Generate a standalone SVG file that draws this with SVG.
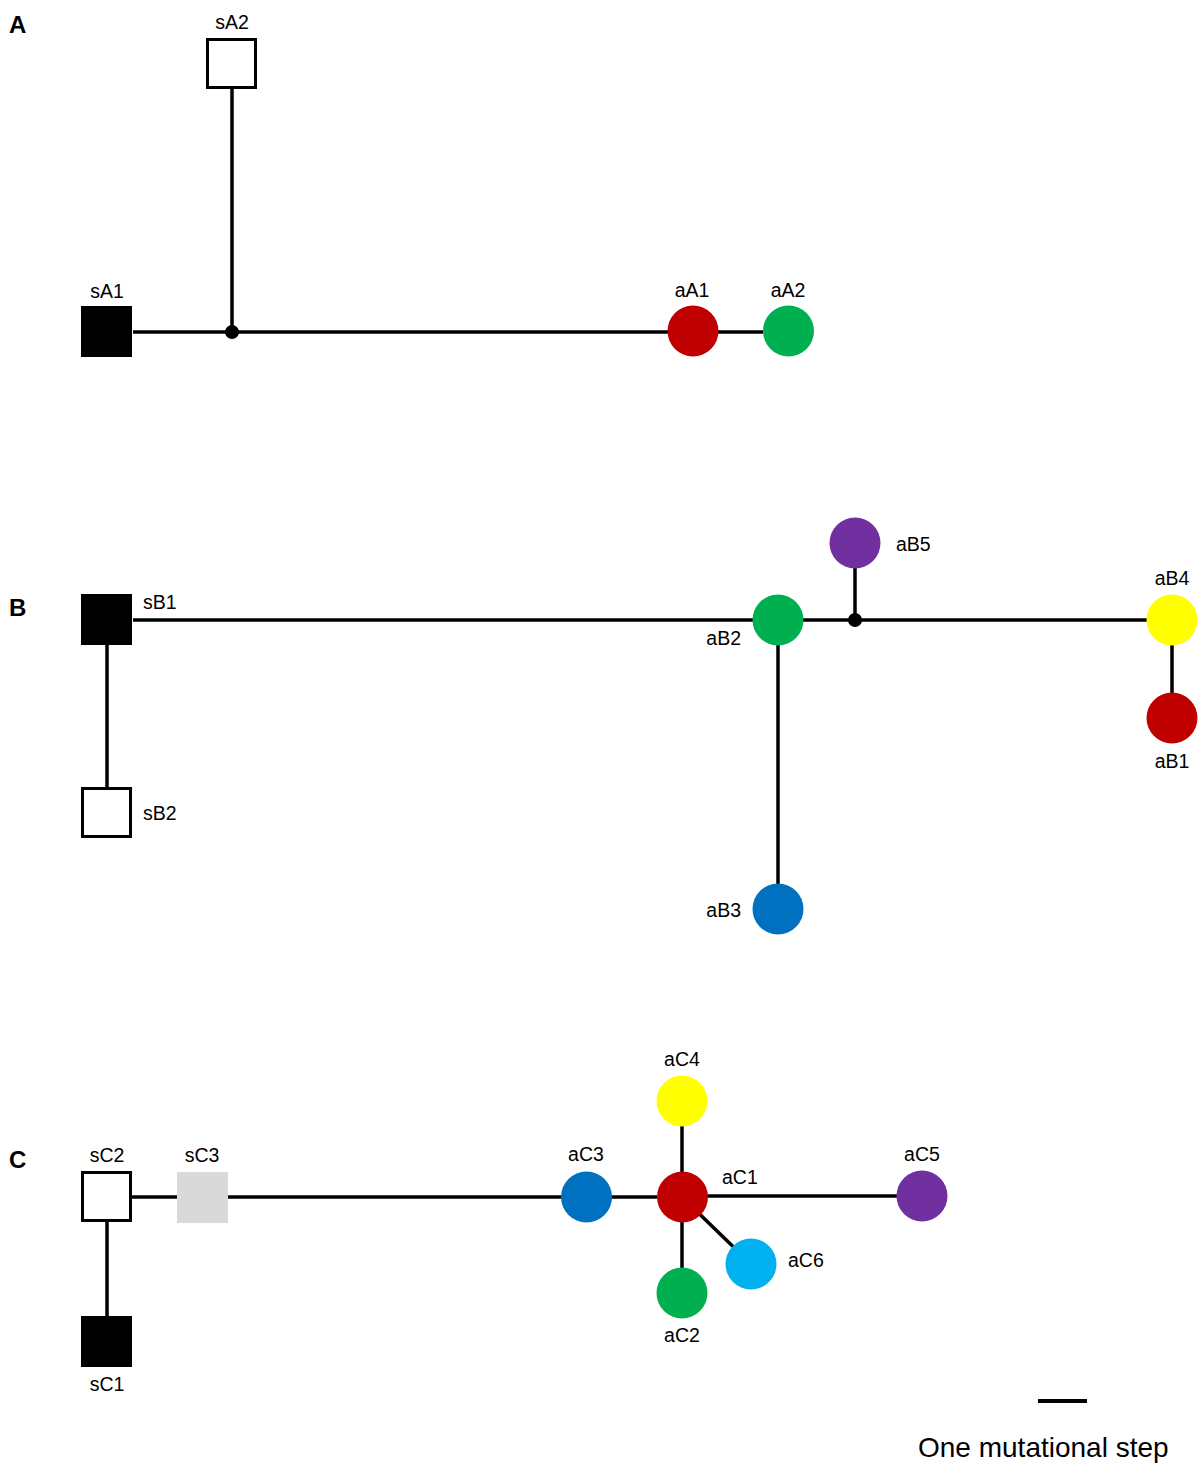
<svg xmlns="http://www.w3.org/2000/svg" width="1200" height="1465" viewBox="0 0 1200 1465">
<style>
.bg{fill:#fff}
.e{stroke:#000;stroke-width:3.5;fill:none}
.sq{stroke:#000;stroke-width:3}
.t{font-family:"Liberation Sans",Arial,sans-serif;font-size:19.5px;fill:#000}
.p{font-family:"Liberation Sans",Arial,sans-serif;font-size:24px;font-weight:bold;fill:#000}
.m{text-anchor:middle}
.r{text-anchor:end}
.red{fill:#C00000}.grn{fill:#00B050}.yel{fill:#FFFF00}.blu{fill:#0070C0}.pur{fill:#7030A0}.lbl{fill:#00B0F0}
</style>
<rect class="bg" width="1200" height="1465"/>
<g id="panel-labels">
<text class="p" x="9" y="33">A</text>
<text class="p" x="9" y="616">B</text>
<text class="p" x="9" y="1168">C</text>
</g>
<g id="connectors">
<line class="e" x1="133" y1="332" x2="668" y2="332"/>
<line class="e" x1="232" y1="89" x2="232" y2="332"/>
<line class="e" x1="718" y1="332" x2="763" y2="332"/>
<line class="e" x1="133" y1="620" x2="1150" y2="620"/>
<line class="e" x1="107" y1="645" x2="107" y2="788"/>
<line class="e" x1="855" y1="568" x2="855" y2="620"/>
<line class="e" x1="778" y1="645" x2="778" y2="884"/>
<line class="e" x1="1172" y1="645" x2="1172" y2="693"/>
<line class="e" x1="132" y1="1197" x2="178" y2="1197"/>
<line class="e" x1="228" y1="1197" x2="657" y2="1197"/>
<line class="e" x1="107" y1="1222" x2="107" y2="1316"/>
<line class="e" x1="682" y1="1101" x2="682" y2="1293"/>
<line class="e" x1="682" y1="1196" x2="922" y2="1196"/>
<line class="e" x1="682" y1="1197" x2="751" y2="1264"/>
<circle cx="232" cy="332" r="7" fill="#000"/>
<circle cx="855" cy="620" r="7" fill="#000"/>
</g>
<g id="sA1"><rect x="81" y="306" width="51" height="51" fill="#000"/><text class="t m" x="107" y="298">sA1</text></g>
<g id="sA2"><rect class="sq" x="207.5" y="39.5" width="48" height="48" fill="#fff"/><text class="t m" x="232" y="29">sA2</text></g>
<g id="aA1"><circle class="red" cx="693" cy="331" r="25.5"/><text class="t m" x="692" y="297">aA1</text></g>
<g id="aA2"><circle class="grn" cx="788.5" cy="331" r="25.5"/><text class="t m" x="788" y="297">aA2</text></g>
<g id="sB1"><rect x="81" y="594" width="51" height="51" fill="#000"/><text class="t" x="143" y="609">sB1</text></g>
<g id="sB2"><rect class="sq" x="82.5" y="788.5" width="48" height="48" fill="#fff"/><text class="t" x="143" y="820">sB2</text></g>
<g id="aB2"><circle class="grn" cx="778" cy="620" r="25.5"/><text class="t r" x="741" y="645">aB2</text></g>
<g id="aB5"><circle class="pur" cx="855" cy="543" r="25.5"/><text class="t" x="896" y="551">aB5</text></g>
<g id="aB4"><circle class="yel" cx="1172" cy="620" r="25.5"/><text class="t m" x="1172" y="585">aB4</text></g>
<g id="aB1"><circle class="red" cx="1172" cy="718" r="25.5"/><text class="t m" x="1172" y="768">aB1</text></g>
<g id="aB3"><circle class="blu" cx="778" cy="909" r="25.5"/><text class="t r" x="741" y="917">aB3</text></g>
<g id="sC2"><rect class="sq" x="82.5" y="1172.5" width="48" height="48" fill="#fff"/><text class="t m" x="107" y="1162">sC2</text></g>
<g id="sC3"><rect x="177" y="1172" width="51" height="51" fill="#D9D9D9"/><text class="t m" x="202" y="1162">sC3</text></g>
<g id="sC1"><rect x="81" y="1316" width="51" height="51" fill="#000"/><text class="t m" x="107" y="1391">sC1</text></g>
<g id="aC3"><circle class="blu" cx="586.5" cy="1197" r="25.5"/><text class="t m" x="586" y="1161">aC3</text></g>
<g id="aC1"><circle class="red" cx="682.5" cy="1197" r="25.5"/><text class="t" x="722" y="1184">aC1</text></g>
<g id="aC4"><circle class="yel" cx="682" cy="1101" r="25.5"/><text class="t m" x="682" y="1066">aC4</text></g>
<g id="aC2"><circle class="grn" cx="682" cy="1293" r="25.5"/><text class="t m" x="682" y="1342">aC2</text></g>
<g id="aC5"><circle class="pur" cx="922" cy="1196" r="25.5"/><text class="t m" x="922" y="1161">aC5</text></g>
<g id="aC6"><circle class="lbl" cx="751" cy="1264" r="25.5"/><text class="t" x="788" y="1267">aC6</text></g>
<g id="legend">
<line x1="1038" y1="1401" x2="1087" y2="1401" stroke="#000" stroke-width="4"/>
<text x="918" y="1457" font-family="'Liberation Sans',Arial,sans-serif" font-size="28" fill="#000">One mutational step</text>
</g>
</svg>
